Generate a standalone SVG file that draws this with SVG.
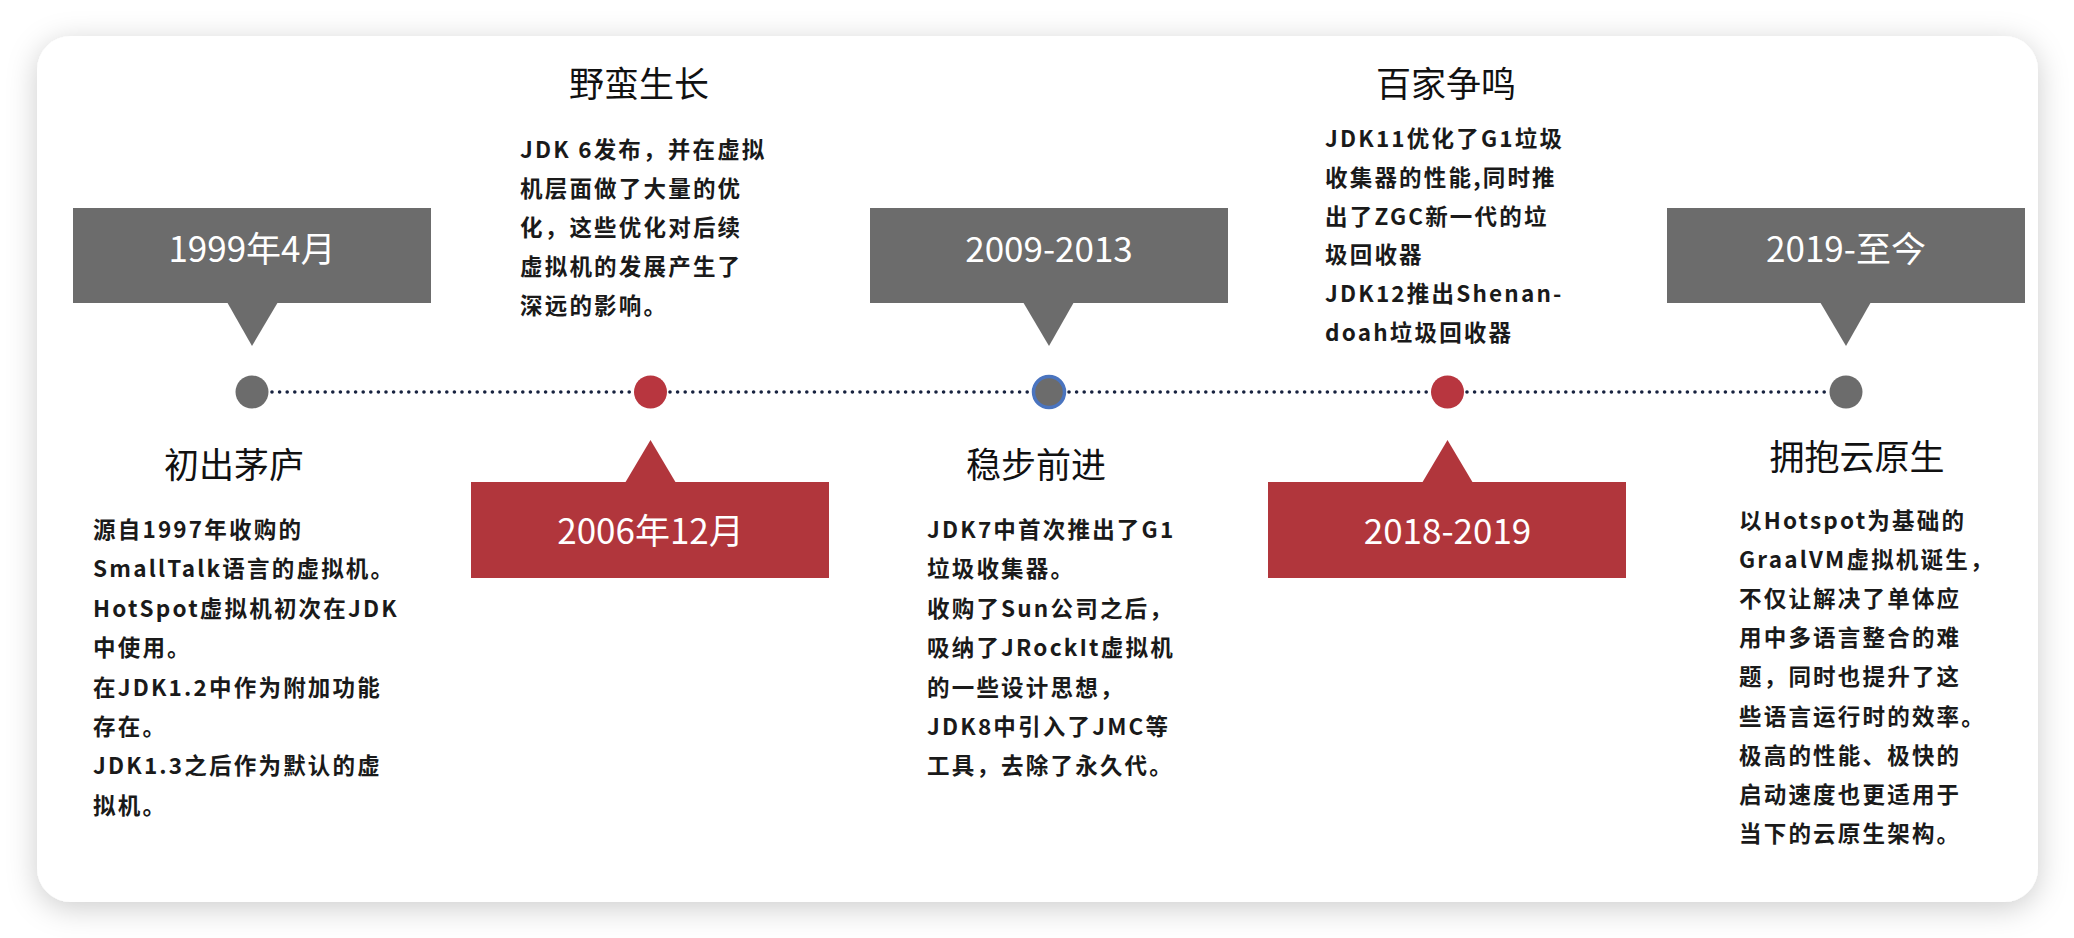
<svg xmlns="http://www.w3.org/2000/svg" width="2074" height="938" viewBox="0 0 2074 938">
<defs>
<filter id="shadow" x="-10%" y="-10%" width="120%" height="125%">
<feDropShadow dx="0" dy="6" stdDeviation="15" flood-color="#000" flood-opacity="0.2"/>
</filter>
<style>
.gbox{fill:#6c6c6c}
.rbox{fill:#b1363c}
.date{font-family:"Noto Sans CJK SC","Noto Sans",sans-serif;font-size:35px;fill:#fff;text-anchor:middle}
.title{font-family:"Noto Sans CJK SC","Noto Sans",sans-serif;font-size:35px;fill:#111;text-anchor:middle}
.body{font-family:"Noto Sans CJK SC","Noto Sans",sans-serif;font-size:22.5px;font-weight:bold;fill:#1a1a1a;letter-spacing:2.2px}
.dot{stroke:#17223f;stroke-width:3.6;stroke-linecap:round;stroke-dasharray:0 7.6;fill:none}
</style>
</defs>
<rect x="0" y="0" width="2074" height="938" fill="#ffffff"/>
<rect x="37" y="36" width="2001" height="866" rx="34" ry="34" fill="#ffffff" filter="url(#shadow)"/>

<g id="connectors">
<line class="dot" x1="272" y1="392" x2="632" y2="392"/>
<line class="dot" x1="670" y1="392" x2="1029" y2="392"/>
<line class="dot" x1="1069" y1="392" x2="1428" y2="392"/>
<line class="dot" x1="1467" y1="392" x2="1826" y2="392"/>
</g>

<g id="node-1999">
<rect class="gbox" x="73" y="208" width="358" height="95"/>
<polygon class="gbox" points="227,302 278,302 252,346"/>
<text class="date" x="252" y="262">1999年4月</text>
<circle cx="252" cy="392" r="16.5" fill="#6c6c6c"/>
<text class="title" x="234" y="478">初出茅庐</text>
<text class="body">
<tspan x="93" y="538">源自1997年收购的</tspan>
<tspan x="93" y="577.4">SmallTalk语言的虚拟机。</tspan>
<tspan x="93" y="616.8">HotSpot虚拟机初次在JDK</tspan>
<tspan x="93" y="656.2">中使用。</tspan>
<tspan x="93" y="695.6">在JDK1.2中作为附加功能</tspan>
<tspan x="93" y="735">存在。</tspan>
<tspan x="93" y="774.4">JDK1.3之后作为默认的虚</tspan>
<tspan x="93" y="813.8">拟机。</tspan>
</text>
</g>

<g id="node-2006">
<rect class="rbox" x="471" y="482" width="358" height="96"/>
<polygon class="rbox" points="625,483 676,483 650.5,440"/>
<text class="date" x="650.5" y="544">2006年12月</text>
<circle cx="650.5" cy="392" r="16.5" fill="#b8363f"/>
<text class="title" x="639" y="97">野蛮生长</text>
<text class="body">
<tspan x="520" y="158">JDK 6发布，并在虚拟</tspan>
<tspan x="520" y="197">机层面做了大量的优</tspan>
<tspan x="520" y="236">化，这些优化对后续</tspan>
<tspan x="520" y="275">虚拟机的发展产生了</tspan>
<tspan x="520" y="314">深远的影响。</tspan>
</text>
</g>

<g id="node-2009">
<rect class="gbox" x="870" y="208" width="358" height="95"/>
<polygon class="gbox" points="1023,302 1074,302 1049,346"/>
<text class="date" x="1049" y="262">2009-2013</text>
<circle cx="1049" cy="392" r="15.5" fill="#6c6c6c" stroke="#4a74bf" stroke-width="3.5"/>
<text class="title" x="1036" y="478">稳步前进</text>
<text class="body">
<tspan x="927" y="538">JDK7中首次推出了G1</tspan>
<tspan x="927" y="577.4">垃圾收集器。</tspan>
<tspan x="927" y="616.8">收购了Sun公司之后，</tspan>
<tspan x="927" y="656.2">吸纳了JRockIt虚拟机</tspan>
<tspan x="927" y="695.6">的一些设计思想，</tspan>
<tspan x="927" y="735">JDK8中引入了JMC等</tspan>
<tspan x="927" y="774.4">工具，去除了永久代。</tspan>
</text>
</g>

<g id="node-2018">
<rect class="rbox" x="1268" y="482" width="358" height="96"/>
<polygon class="rbox" points="1422,483 1473,483 1447.5,440"/>
<text class="date" x="1447.5" y="544">2018-2019</text>
<circle cx="1447.5" cy="392" r="16.5" fill="#b8363f"/>
<text class="title" x="1446" y="97">百家争鸣</text>
<text class="body">
<tspan x="1325" y="147">JDK11优化了G1垃圾</tspan>
<tspan x="1325" y="185.8">收集器的性能,同时推</tspan>
<tspan x="1325" y="224.6">出了ZGC新一代的垃</tspan>
<tspan x="1325" y="263.4">圾回收器</tspan>
<tspan x="1325" y="302.2">JDK12推出Shenan-</tspan>
<tspan x="1325" y="341">doah垃圾回收器</tspan>
</text>
</g>

<g id="node-2019">
<rect class="gbox" x="1667" y="208" width="358" height="95"/>
<polygon class="gbox" points="1820,302 1871,302 1846,346"/>
<text class="date" x="1846" y="262">2019-至今</text>
<circle cx="1846" cy="392" r="16.5" fill="#6c6c6c"/>
<text class="title" x="1857" y="470">拥抱云原生</text>
<text class="body">
<tspan x="1739" y="529">以Hotspot为基础的</tspan>
<tspan x="1739" y="568.1">GraalVM虚拟机诞生，</tspan>
<tspan x="1739" y="607.2">不仅让解决了单体应</tspan>
<tspan x="1739" y="646.3">用中多语言整合的难</tspan>
<tspan x="1739" y="685.4">题，同时也提升了这</tspan>
<tspan x="1739" y="724.5">些语言运行时的效率。</tspan>
<tspan x="1739" y="763.6">极高的性能、极快的</tspan>
<tspan x="1739" y="802.7">启动速度也更适用于</tspan>
<tspan x="1739" y="841.8">当下的云原生架构。</tspan>
</text>
</g>
</svg>
